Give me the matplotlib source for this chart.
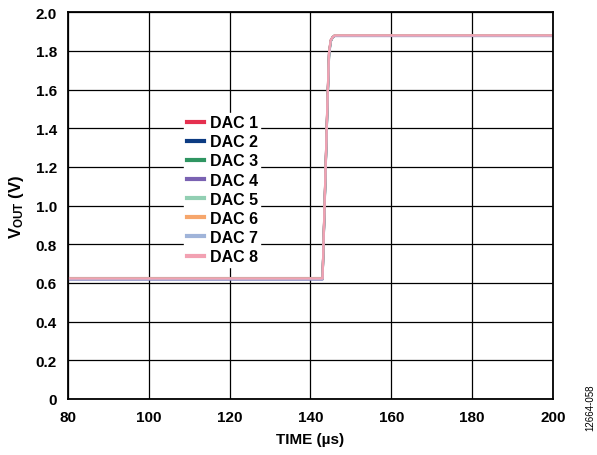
import matplotlib.pyplot as plt

# -----------------------------
# Data
# -----------------------------
timeUs = [80, 143.0, 143.4, 143.8, 144.2, 144.6, 145.0, 145.5, 146.0, 200]

dacNames = ["DAC 1", "DAC 2", "DAC 3", "DAC 4", "DAC 5", "DAC 6", "DAC 7", "DAC 8"]
dacColors = ["#e5304f", "#0c3b82", "#2f9562", "#7a62b2", "#92cfb3",
             "#f6a66c", "#a0b4d9", "#f2a1b2"]

dac1 = [0.625, 0.625, 0.93, 1.23, 1.53, 1.79, 1.855, 1.872, 1.880, 1.880]
dac2 = [0.620, 0.620, 0.92, 1.22, 1.52, 1.78, 1.850, 1.870, 1.878, 1.878]
dac3 = [0.622, 0.622, 0.91, 1.21, 1.51, 1.77, 1.848, 1.869, 1.879, 1.879]
dac4 = [0.618, 0.618, 0.92, 1.22, 1.52, 1.78, 1.852, 1.871, 1.877, 1.877]
dac5 = [0.624, 0.624, 0.93, 1.23, 1.53, 1.79, 1.853, 1.872, 1.881, 1.881]
dac6 = [0.621, 0.621, 0.92, 1.22, 1.52, 1.78, 1.851, 1.870, 1.879, 1.879]
dac7 = [0.619, 0.619, 0.91, 1.21, 1.51, 1.77, 1.849, 1.869, 1.878, 1.878]
dac8 = [0.623, 0.623, 0.93, 1.23, 1.53, 1.79, 1.854, 1.871, 1.880, 1.880]
dacValues = [dac1, dac2, dac3, dac4, dac5, dac6, dac7, dac8]

xTicks = [80, 100, 120, 140, 160, 180, 200]
yTicks = [0, 0.2, 0.4, 0.6, 0.8, 1.0, 1.2, 1.4, 1.6, 1.8, 2.0]
yTickLabels = ["0", "0.2", "0.4", "0.6", "0.8", "1.0", "1.2", "1.4", "1.6", "1.8", "2.0"]

plt.rcParams["font.family"] = ["Liberation Sans", "DejaVu Sans"]
plt.rcParams["font.weight"] = "bold"
plt.rcParams["mathtext.fontset"] = "custom"
plt.rcParams["mathtext.rm"] = "Liberation Sans:bold"
plt.rcParams["mathtext.it"] = "Liberation Sans:bold"


def main():
    fig = plt.figure(figsize=(5.97, 4.56), dpi=100)
    ax = fig.add_axes([0.114, 0.123, 0.812, 0.848])

    for name, color, values in zip(dacNames, dacColors, dacValues):
        ax.plot(timeUs, values, color=color, lw=1.6, label=name)

    ax.set_xlim(80, 200)
    ax.set_ylim(0, 2.0)
    ax.set_xticks(xTicks)
    ax.set_yticks(yTicks)
    ax.set_yticklabels(yTickLabels)
    ax.tick_params(axis="x", length=0, labelsize=11, pad=8)
    ax.tick_params(axis="y", length=0, labelsize=11, pad=8)
    for label in ax.get_xticklabels() + ax.get_yticklabels():
        label.set_fontweight("bold")
    ax.grid(True, color="black", lw=0.9)
    ax.set_axisbelow(True)
    for spine in ax.spines.values():
        spine.set_linewidth(1.3)

    ax.set_xlabel("TIME (µs)", fontsize=11, fontweight="bold", labelpad=6)
    ax.set_ylabel(r"V$_{\rm OUT}$ (V)", fontsize=12, fontweight="bold", labelpad=7)

    legend = ax.legend(loc="upper left", bbox_to_anchor=(0.24, 0.74), frameon=True,
                       fontsize=11.5, handlelength=1.1, handletextpad=0.35,
                       labelspacing=0.26, borderpad=0.15, borderaxespad=0)
    legend.get_frame().set_edgecolor("white")
    legend.get_frame().set_facecolor("white")
    legend.get_frame().set_alpha(1.0)
    legend.get_frame().set_boxstyle("square", pad=0)
    for text in legend.get_texts():
        text.set_fontweight("bold")
    for line in legend.get_lines():
        line.set_linewidth(3)

    fig.text(0.988, 0.105, "12664-058", rotation=90, fontsize=7,
             fontweight="normal", ha="center", va="center")

    fig.savefig("out.png", dpi=100)


if __name__ == "__main__":
    main()
